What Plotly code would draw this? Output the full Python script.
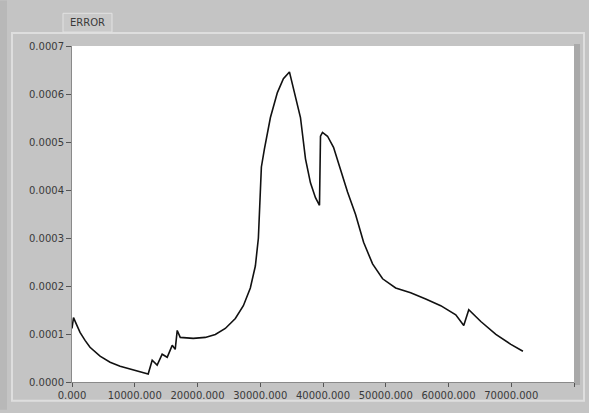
import plotly.graph_objects as go

# Data (x in samples, y = ERROR)
x_vals = [0, 240, 640, 1280, 2080, 2870, 4470, 6070, 7670, 10060, 11660, 12140,
          12780, 13570, 14370, 15170, 15970, 16450, 16770, 17250, 19320, 21240,
          22840, 24430, 26030, 27310, 28420, 29220, 29700, 29860, 30180, 30660,
          31620, 32730, 33690, 34650, 35290, 36410, 37210, 38000, 38800, 39440,
          39600, 39920, 40720, 41680, 42800, 43910, 45190, 46470, 47900, 49500,
          51580, 53970, 56370, 58760, 61160, 62430, 63230, 65150, 67550, 69940, 71860]
y_vals = [0.0001115, 0.000134, 0.000122, 0.0001033, 0.0000867, 0.0000723, 0.0000537,
          0.0000413, 0.000033, 0.0000248, 0.0000186, 0.0000165,
          0.0000454, 0.0000351, 0.0000578, 0.0000516, 0.0000764, 0.0000681,
          0.0001074, 0.0000929, 0.0000909, 0.0000929,
          0.0000991, 0.0001115, 0.0001322, 0.000159, 0.000196, 0.0002416,
          0.0002994, 0.000345, 0.000448, 0.000485,
          0.000551, 0.000603, 0.000632, 0.000646, 0.000613, 0.000551, 0.000465,
          0.000415, 0.000384, 0.000368,
          0.000512, 0.00052, 0.000512, 0.000489, 0.000442, 0.000396, 0.000349,
          0.000291, 0.000246, 0.000215,
          0.000196, 0.000186, 0.000173, 0.000159, 0.00014, 0.0001177, 0.0001507,
          0.000126, 0.0000991, 0.0000785, 0.000064]

x_tickvals = [0, 10000, 20000, 30000, 40000, 50000, 60000, 70000, 80000]
x_ticktext = ["0.000", "10000.000", "20000.000", "30000.000", "40000.000",
              "50000.000", "60000.000", "70000.000", "80000.000"]
y_tickvals = [0, 0.0001, 0.0002, 0.0003, 0.0004, 0.0005, 0.0006, 0.0007]
y_ticktext = ["0.0000", "0.0001", "0.0002", "0.0003", "0.0004", "0.0005", "0.0006", "0.0007"]
title_text = "ERROR"

W, H = 589, 413
L, R, T, B = 72, 574, 46, 385


def px(p):
    return (p - L) / (R - L)


def py(p):
    return (B - p) / (B - T)


fig = go.Figure()
fig.add_trace(go.Scatter(x=x_vals, y=y_vals, mode="lines",
                         line=dict(color="#111111", width=1.6), showlegend=False))

font = dict(family="DejaVu Sans", size=10, color="#3a3a3a")

shapes = [
    # outer panel bevel
    dict(type="rect", xref="paper", yref="paper", x0=px(12), x1=px(584), y0=py(404), y1=py(33),
         line=dict(color="#dedede", width=2), fillcolor="rgba(0,0,0,0)", layer="below"),
    # left darker strip
    dict(type="rect", xref="paper", yref="paper", x0=px(0), x1=px(7), y0=py(413), y1=py(0),
         line=dict(width=0), fillcolor="#b8b8b8", layer="below"),
    # right darker strip beside plot
    dict(type="rect", xref="paper", yref="paper", x0=px(574), x1=px(580), y0=py(388), y1=py(44),
         line=dict(width=0), fillcolor="#a9a9a9", layer="below"),
    # title box
    dict(type="rect", xref="paper", yref="paper", x0=px(63), x1=px(112), y0=py(32), y1=py(13),
         line=dict(color="#e2e2e2", width=1), fillcolor="#c9c9c9"),
]

fig.update_layout(
    width=W, height=H,
    margin=dict(l=L, r=W - R, t=T, b=H - B, pad=0),
    paper_bgcolor="#c4c4c4",
    plot_bgcolor="#ffffff",
    font=font,
    shapes=shapes,
    annotations=[dict(text=title_text, xref="paper", yref="paper", x=px(87.5), y=py(22.5),
                      showarrow=False, xanchor="center", yanchor="middle",
                      font=dict(family="DejaVu Sans", size=10, color="#3a3a3a"))],
    xaxis=dict(range=[0, 80000], tickvals=x_tickvals, ticktext=x_ticktext,
               showgrid=False, zeroline=False, showline=True, linecolor="#8a8a8a",
               ticks="outside", ticklen=4, tickcolor="#555555", tickfont=font),
    yaxis=dict(range=[0, 0.0007], tickvals=y_tickvals, ticktext=y_ticktext,
               showgrid=False, zeroline=False, showline=True, linecolor="#8a8a8a",
               ticks="outside", ticklen=5, tickcolor="#555555", tickfont=font),
)

fig.write_html("out.html")
